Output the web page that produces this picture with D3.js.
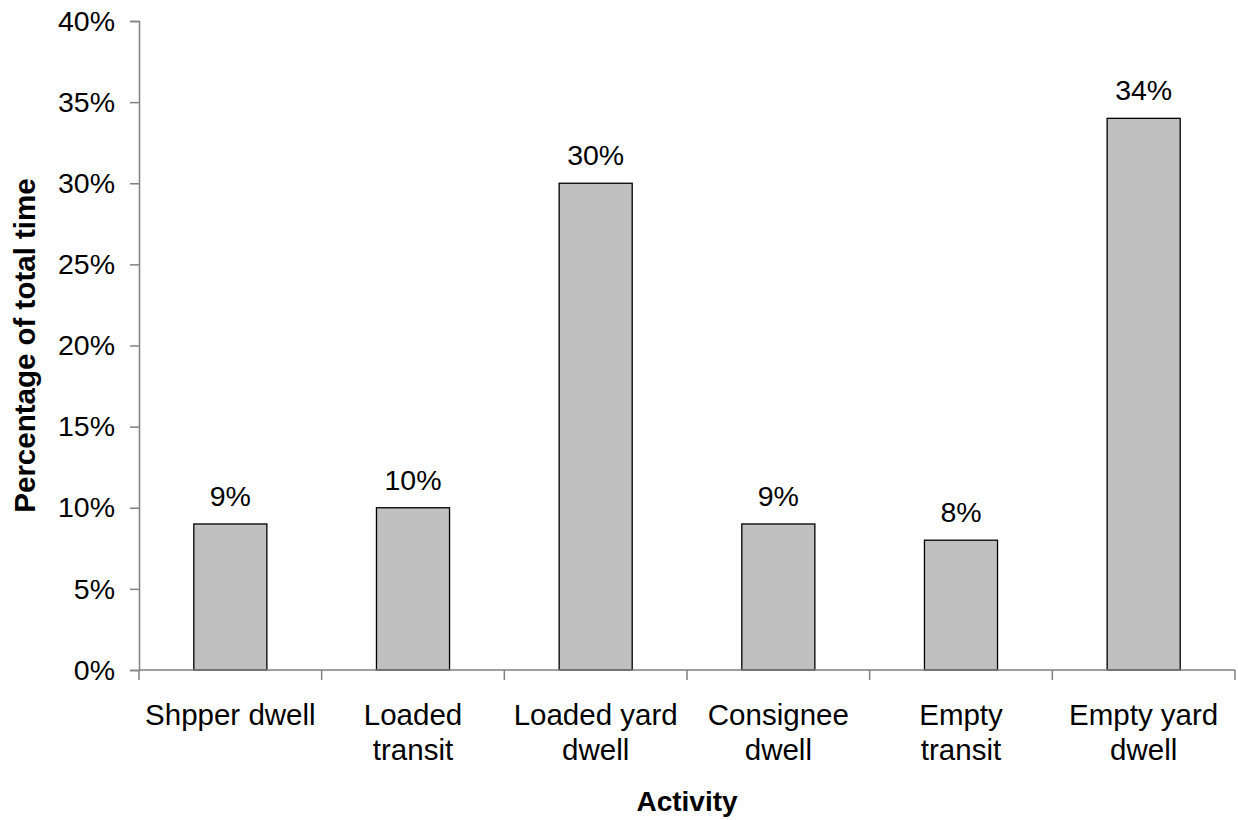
<!DOCTYPE html>
<html>
<head>
<meta charset="utf-8">
<script src="https://cdn.jsdelivr.net/npm/d3@7"></script>
<style>
  body { margin: 0; background: #fff; }
  text { font-family: "Liberation Sans", Arial, sans-serif; fill: #000; }
</style>
</head>
<body>
<svg id="chart" width="1238" height="820"></svg>
<script>
// Share of total time by activity
const categories = [
  ["Shpper dwell"],
  ["Loaded", "transit"],
  ["Loaded yard", "dwell"],
  ["Consignee", "dwell"],
  ["Empty", "transit"],
  ["Empty yard", "dwell"]
];
const values = [9, 10, 30, 9, 8, 34];
const yTicks = [0, 5, 10, 15, 20, 25, 30, 35, 40];

const svg = d3.select("#chart");
const plotLeft = 139, plotRight = 1235, plotTop = 21, plotBottom = 670;

const keys = categories.map((c, i) => i);
const x = d3.scaleBand().domain(keys).range([plotLeft, plotRight]).paddingInner(0).paddingOuter(0);
const y = d3.scaleLinear().domain([0, 40]).range([plotBottom, plotTop]);

const axisColor = "#808080";
const tickFont = 28.5;
const catFont = 29.5;

// Y axis
const yAxis = svg.append("g")
  .attr("transform", `translate(${plotLeft},0)`)
  .call(d3.axisLeft(y).tickValues(yTicks).tickSize(9).tickPadding(15).tickFormat(d => d + "%"));
yAxis.select(".domain").attr("stroke", axisColor).attr("stroke-width", 1.5);
yAxis.selectAll(".tick line").attr("stroke", axisColor).attr("stroke-width", 1.5);
yAxis.selectAll(".tick text").attr("font-size", tickFont).attr("font-family", "Liberation Sans, Arial, sans-serif").attr("fill", "#000");

// Bars
const barW = x.bandwidth() * 0.4;
svg.append("g").selectAll("rect")
  .data(values)
  .join("rect")
  .attr("x", (d, i) => x(i) + (x.bandwidth() - barW) / 2)
  .attr("y", d => y(d))
  .attr("width", barW)
  .attr("height", d => plotBottom - y(d))
  .attr("fill", "#c0c0c0")
  .attr("stroke", "#000")
  .attr("stroke-width", 1.3);

// Value labels
svg.append("g").selectAll("text")
  .data(values)
  .join("text")
  .attr("x", (d, i) => x(i) + x.bandwidth() / 2)
  .attr("y", d => y(d) - 18)
  .attr("text-anchor", "middle")
  .attr("font-size", tickFont)
  .text(d => d + "%");

// X axis
const xAxis = svg.append("g")
  .attr("transform", `translate(0,${plotBottom})`);
xAxis.append("line")
  .attr("x1", plotLeft).attr("x2", plotRight)
  .attr("stroke", axisColor).attr("stroke-width", 1.5);
const xTickPos = keys.map(k => x(k)).concat([plotRight]);
xAxis.selectAll("line.tk")
  .data(xTickPos)
  .join("line")
  .attr("class", "tk")
  .attr("x1", d => d).attr("x2", d => d)
  .attr("y1", 0).attr("y2", 10)
  .attr("stroke", axisColor).attr("stroke-width", 1.5);

// Category labels
const catG = svg.append("g").selectAll("text")
  .data(categories)
  .join("text")
  .attr("text-anchor", "middle")
  .attr("font-size", catFont)
  .attr("transform", (d, i) => `translate(${x(i) + x.bandwidth() / 2},725)`);
catG.selectAll("tspan")
  .data(d => d)
  .join("tspan")
  .attr("x", 0)
  .attr("y", (d, j) => j * 35)
  .text(d => d);

// Axis titles
svg.append("text")
  .attr("x", (plotLeft + plotRight) / 2)
  .attr("y", 811)
  .attr("text-anchor", "middle")
  .attr("font-size", 28)
  .attr("font-weight", "bold")
  .text("Activity");

svg.append("text")
  .attr("transform", `translate(35,${(plotTop + plotBottom) / 2}) rotate(-90)`)
  .attr("text-anchor", "middle")
  .attr("font-size", 29.5)
  .attr("font-weight", "bold")
  .text("Percentage of total time");
</script>
</body>
</html>
